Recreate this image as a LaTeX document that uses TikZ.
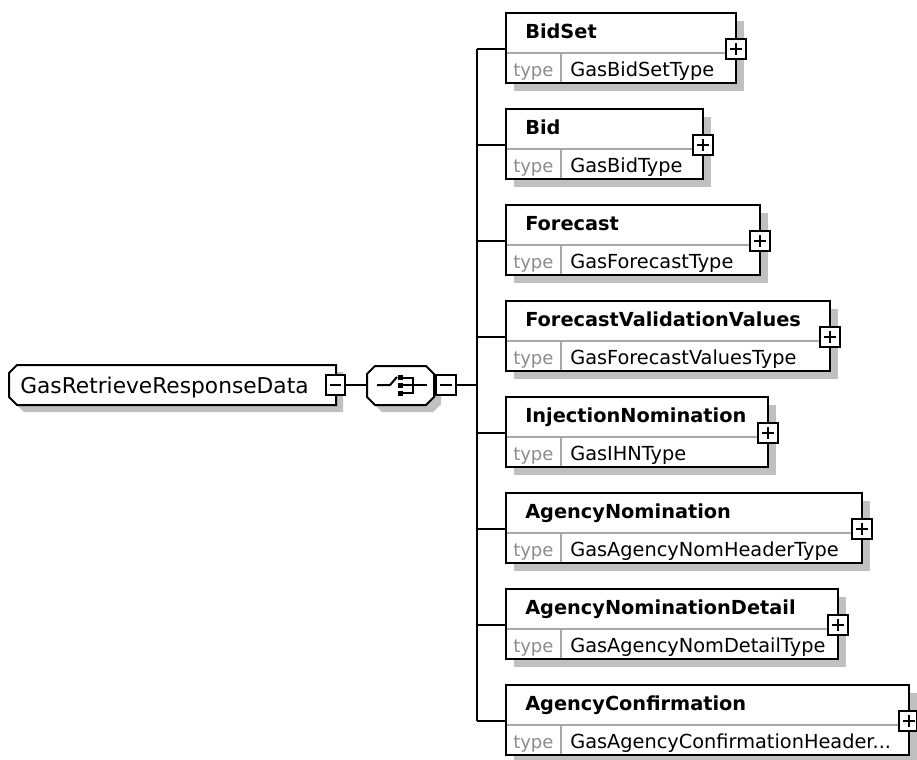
\documentclass[tikz,border=0pt]{standalone}
\usepackage{fontspec}
\setmainfont{DejaVu Sans}
\definecolor{shadowgray}{HTML}{C0C0C0}
\definecolor{divgray}{HTML}{A8A8A8}
\definecolor{typegray}{HTML}{8C8C8C}
\begin{document}
\begin{tikzpicture}[x=0.75pt,y=0.75pt,yscale=-1,xscale=1,
  line/.style={line width=1.5pt},
  shadowfill/.style={fill=shadowgray},
  divide/.style={draw=divgray,line width=1.1pt},
  rootname/.style={anchor=base west,inner sep=0pt,font=\fontsize{16.3}{19}\selectfont},
  elname/.style={anchor=base west,inner sep=0pt,font=\fontsize{14.5}{17}\selectfont\bfseries},
  typelabel/.style={anchor=base west,inner sep=0pt,text=typegray,font=\fontsize{13.5}{16}\selectfont},
  typename/.style={anchor=base west,inner sep=0pt,font=\fontsize{14.5}{17}\selectfont}]
\path [use as bounding box] (0,0) rectangle (917,760); %set diagram to 917 x 760

%Shape: Root element [GasRetrieveResponseData]
\fill [shadowfill] (24,372) -- (343,372) -- (343,412) -- (24,412) -- (16,404) -- (16,380) -- cycle ;
\draw [line,fill=white] (17,365) -- (336,365) -- (336,405) -- (17,405) -- (9,397) -- (9,373) -- cycle ;
\draw [line,fill=white] (326,375) rectangle (345,395) ;
\draw [line] (330,385) -- (341,385) ;
\coordinate (rootminus) at (345,385) ;

%Shape: Sequence compositor
\fill [shadowfill] (382,373) -- (433,373) -- (441,381) -- (441,404) -- (433,412) -- (382,412) -- (374,404) -- (374,381) -- cycle ;
\draw [line,fill=white] (375,366) -- (426,366) -- (434,374) -- (434,397) -- (426,405) -- (375,405) -- (367,397) -- (367,374) -- cycle ;
\coordinate (seq) at (367,385) ;
%Sequence icon
\draw [line] (377,385) -- (390,385) -- (397,377) ;
\fill (398,375) rectangle (403,380) ;
\fill (398,383) rectangle (403,388) ;
\fill (398,391) rectangle (403,396) ;
\draw [line] (403,378) -- (413,378) -- (413,393) -- (403,393) ;
\draw [line] (403,385) -- (427,385) ;
\draw [line,fill=white] (436,375) rectangle (456,395) ;
\draw [line] (440,385) -- (452,385) ;
\coordinate (seqminus) at (456,385) ;
\coordinate (trunk) at (477,385) ;

%Shape: Rectangle [BidSet]
\fill [shadowfill] (514,21) rectangle (744,91) ;
\draw [line,fill=white] (506,13) rectangle (736,83) ;
\draw [divide] (507,53) -- (735,53) (561,53) -- (561,82) ;
\draw [line,fill=white] (726,39) rectangle (746,59) ;
\draw [line] (730,49) -- (742,49) (736,43) -- (736,55) ;
\coordinate (bidset) at (506,49) ;
% Text Node
\draw (525,38) node [elname] {BidSet};
\draw (513,76) node [typelabel] {type};
\draw (570,76) node [typename] {GasBidSetType};

%Shape: Rectangle [Bid]
\fill [shadowfill] (514,117) rectangle (711,187) ;
\draw [line,fill=white] (506,109) rectangle (703,179) ;
\draw [divide] (507,149) -- (702,149) (561,149) -- (561,178) ;
\draw [line,fill=white] (693,135) rectangle (713,155) ;
\draw [line] (697,145) -- (709,145) (703,139) -- (703,151) ;
\coordinate (bid) at (506,145) ;
% Text Node
\draw (525,134) node [elname] {Bid};
\draw (513,172) node [typelabel] {type};
\draw (570,172) node [typename] {GasBidType};

%Shape: Rectangle [Forecast]
\fill [shadowfill] (514,213) rectangle (768,283) ;
\draw [line,fill=white] (506,205) rectangle (760,275) ;
\draw [divide] (507,245) -- (759,245) (561,245) -- (561,274) ;
\draw [line,fill=white] (750,231) rectangle (770,251) ;
\draw [line] (754,241) -- (766,241) (760,235) -- (760,247) ;
\coordinate (forecast) at (506,241) ;
% Text Node
\draw (525,230) node [elname] {Forecast};
\draw (513,268) node [typelabel] {type};
\draw (570,268) node [typename] {GasForecastType};

%Shape: Rectangle [ForecastValidationValues]
\fill [shadowfill] (514,309) rectangle (838,379) ;
\draw [line,fill=white] (506,301) rectangle (830,371) ;
\draw [divide] (507,341) -- (829,341) (561,341) -- (561,370) ;
\draw [line,fill=white] (820,327) rectangle (840,347) ;
\draw [line] (824,337) -- (836,337) (830,331) -- (830,343) ;
\coordinate (fcvalues) at (506,337) ;
% Text Node
\draw (525,326) node [elname] {ForecastValidationValues};
\draw (513,364) node [typelabel] {type};
\draw (570,364) node [typename] {GasForecastValuesType};

%Shape: Rectangle [InjectionNomination]
\fill [shadowfill] (514,405) rectangle (776,475) ;
\draw [line,fill=white] (506,397) rectangle (768,467) ;
\draw [divide] (507,437) -- (767,437) (561,437) -- (561,466) ;
\draw [line,fill=white] (758,423) rectangle (778,443) ;
\draw [line] (762,433) -- (774,433) (768,427) -- (768,439) ;
\coordinate (injnom) at (506,433) ;
% Text Node
\draw (525,422) node [elname] {InjectionNomination};
\draw (513,460) node [typelabel] {type};
\draw (570,460) node [typename] {GasIHNType};

%Shape: Rectangle [AgencyNomination]
\fill [shadowfill] (514,501) rectangle (870,571) ;
\draw [line,fill=white] (506,493) rectangle (862,563) ;
\draw [divide] (507,533) -- (861,533) (561,533) -- (561,562) ;
\draw [line,fill=white] (852,519) rectangle (872,539) ;
\draw [line] (856,529) -- (868,529) (862,523) -- (862,535) ;
\coordinate (agnom) at (506,529) ;
% Text Node
\draw (525,518) node [elname] {AgencyNomination};
\draw (513,556) node [typelabel] {type};
\draw (570,556) node [typename] {GasAgencyNomHeaderType};

%Shape: Rectangle [AgencyNominationDetail]
\fill [shadowfill] (514,597) rectangle (846,667) ;
\draw [line,fill=white] (506,589) rectangle (838,659) ;
\draw [divide] (507,629) -- (837,629) (561,629) -- (561,658) ;
\draw [line,fill=white] (828,615) rectangle (848,635) ;
\draw [line] (832,625) -- (844,625) (838,619) -- (838,631) ;
\coordinate (agnomdetail) at (506,625) ;
% Text Node
\draw (525,614) node [elname] {AgencyNominationDetail};
\draw (513,652) node [typelabel] {type};
\draw (570,652) node [typename] {GasAgencyNomDetailType};

%Shape: Rectangle [AgencyConfirmation]
\fill [shadowfill] (514,693) rectangle (917,763) ;
\draw [line,fill=white] (506,685) rectangle (909,755) ;
\draw [divide] (507,725) -- (908,725) (561,725) -- (561,754) ;
\draw [line,fill=white] (899,711) rectangle (917,731) ;
\draw [line] (903,721) -- (915,721) (909,715) -- (909,727) ;
\coordinate (agconf) at (506,721) ;
% Text Node
\draw (525,710) node [elname] {AgencyConfirmation};
\draw (513,748) node [typelabel] {type};
\draw (570,748) node [typename] {GasAgencyConfirmationHeader...};

% Text Node
\draw (20,393) node [rootname] {GasRetrieveResponseData};

%Straight Lines
\draw [line] (rootminus) -- (seq) ;
\draw [line] (seqminus) -- (trunk) ;
\draw [line] (trunk |- bidset) -- (trunk |- agconf) ;
\draw [line] (trunk |- bidset) -- (bidset) ;
\draw [line] (trunk |- bid) -- (bid) ;
\draw [line] (trunk |- forecast) -- (forecast) ;
\draw [line] (trunk |- fcvalues) -- (fcvalues) ;
\draw [line] (trunk |- injnom) -- (injnom) ;
\draw [line] (trunk |- agnom) -- (agnom) ;
\draw [line] (trunk |- agnomdetail) -- (agnomdetail) ;
\draw [line] (trunk |- agconf) -- (agconf) ;

\end{tikzpicture}
\end{document}
